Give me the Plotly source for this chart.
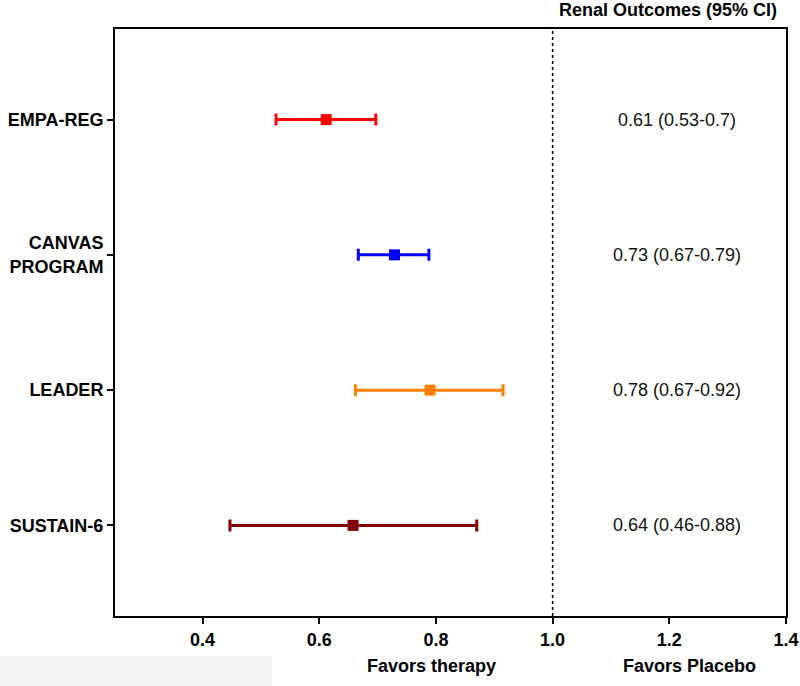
import plotly.graph_objects as go

trials = ["EMPA-REG", "CANVAS<br>PROGRAM", "LEADER", "SUSTAIN-6"]
hr = [0.612, 0.729, 0.790, 0.658]
ci_low = [0.526, 0.667, 0.662, 0.447]
ci_high = [0.697, 0.788, 0.915, 0.870]
labels = ["0.61 (0.53-0.7)", "0.73 (0.67-0.79)", "0.78 (0.67-0.92)", "0.64 (0.46-0.88)"]
colors = ["#ff0000", "#0000ff", "#ff8000", "#800000"]
ypos = [4, 3, 2, 1]
x_ticks = [0.4, 0.6, 0.8, 1.0, 1.2, 1.4]

FONT = "Liberation Sans, Arial, sans-serif"
FS = 18

fig = go.Figure()
for i in range(len(trials)):
    fig.add_trace(go.Scatter(
        x=[hr[i]], y=[ypos[i]], mode="markers",
        marker=dict(symbol="square", size=11, color=colors[i]),
        error_x=dict(type="data", symmetric=False,
                     array=[ci_high[i] - hr[i]], arrayminus=[hr[i] - ci_low[i]],
                     color=colors[i], thickness=3, width=6),
        showlegend=False, hoverinfo="skip",
    ))
    fig.add_annotation(x=1.214, y=ypos[i], xref="x", yref="y", text=labels[i],
                       showarrow=False, font=dict(family=FONT, size=FS, color="#111"))

fig.add_shape(type="line", x0=1.0, x1=1.0, y0=0, y1=1, xref="x", yref="paper",
              line=dict(color="black", width=1.5, dash="dot"))

fig.add_shape(type="rect", xref="paper", yref="paper",
              x0=-0.1714, x1=0.234, y0=-0.119, y1=-0.068,
              fillcolor="#f5f5f5", line=dict(width=0), layer="below")

fig.add_annotation(x=1.197, y=1.0324, xref="x", yref="paper", text="<b>Renal Outcomes (95% CI)</b>",
                   showarrow=False, yanchor="middle", font=dict(family=FONT, size=FS, color="black"))
fig.add_annotation(x=0.793, y=-0.085, xref="x", yref="paper", text="<b>Favors therapy</b>",
                   showarrow=False, yanchor="middle", font=dict(family=FONT, size=FS, color="black"))
fig.add_annotation(x=1.235, y=-0.085, xref="x", yref="paper", text="<b>Favors Placebo</b>",
                   showarrow=False, yanchor="middle", font=dict(family=FONT, size=FS, color="black"))

fig.update_layout(
    width=800, height=686,
    margin=dict(l=115, r=14, t=29, b=70),
    paper_bgcolor="white", plot_bgcolor="white",
    font=dict(family=FONT, size=FS, color="black"),
    xaxis=dict(range=[0.25, 1.4], tickvals=x_ticks, ticktext=[f"{v:.1f}" for v in x_ticks],
               showgrid=False, zeroline=False, showline=True, linecolor="black", linewidth=2,
               mirror=True, ticks="outside", ticklen=6, tickwidth=2, tickcolor="black",
               automargin=False,
               tickfont=dict(family=FONT, size=FS, color="black", weight="bold")),
    yaxis=dict(range=[0.33, 4.67], tickvals=ypos, ticktext=[f"<b>{t}</b>" for t in trials],
               showgrid=False, zeroline=False, showline=True, linecolor="black", linewidth=2,
               mirror=True, ticks="outside", ticklen=6, tickwidth=1.5, tickcolor="black",
               automargin=False,
               tickfont=dict(family=FONT, size=FS, color="black")),
)

fig.write_html("out.html", config={"displayModeBar": False},
               post_script="document.body.style.margin='0px';")
